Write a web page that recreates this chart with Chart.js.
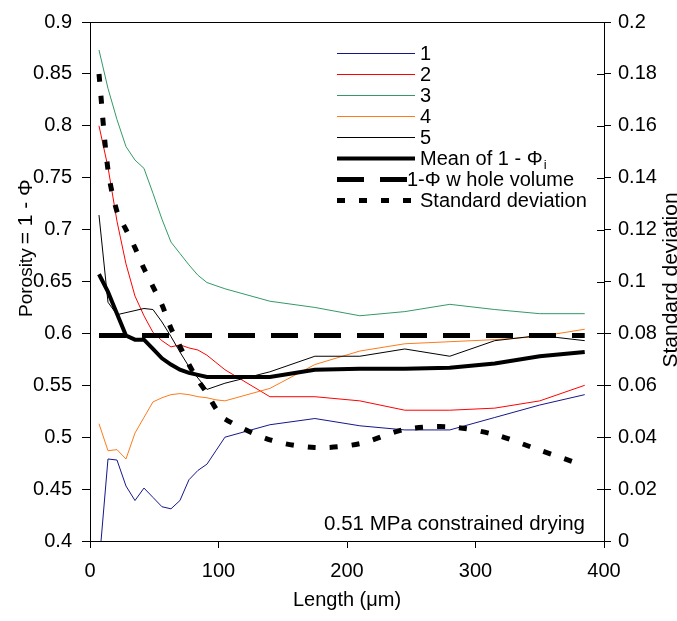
<!DOCTYPE html>
<html>
<head>
<meta charset="utf-8">
<script src="https://cdn.jsdelivr.net/npm/chart.js@4"></script>
<style>
  html, body { margin: 0; padding: 0; background: #fff; }
  #wrap { width: 677px; height: 621px; }
</style>
</head>
<body>
<div id="wrap"><canvas id="grafico" width="677" height="621"></canvas></div>
<script>
// sample positions along the specimen (µm)
const lengths = [7, 14, 21, 28, 35, 42, 49, 56, 63, 70, 77, 84, 91, 98, 105, 140, 175, 210, 245, 280, 315, 350, 385];

// porosity 1 - phi for the five slices
const serie1 = [0.377, 0.479, 0.478, 0.453, 0.439, 0.451, 0.442, 0.433, 0.431, 0.439, 0.459, 0.468, 0.474, 0.487, 0.500, 0.512, 0.518, 0.511, 0.507, 0.507, 0.519, 0.531, 0.541];
const serie2 = [0.800, 0.760, 0.708, 0.667, 0.636, 0.617, 0.601, 0.593, 0.587, 0.589, 0.586, 0.584, 0.579, 0.572, 0.565, 0.539, 0.539, 0.535, 0.526, 0.526, 0.528, 0.535, 0.550];
const serie3 = [0.873, 0.836, 0.806, 0.780, 0.767, 0.759, 0.735, 0.710, 0.688, 0.677, 0.666, 0.656, 0.649, 0.646, 0.643, 0.631, 0.625, 0.617, 0.621, 0.628, 0.623, 0.619, 0.619];
const serie4 = [0.513, 0.487, 0.488, 0.479, 0.504, 0.519, 0.534, 0.538, 0.541, 0.542, 0.541, 0.539, 0.538, 0.536, 0.535, 0.547, 0.570, 0.583, 0.590, 0.592, 0.594, 0.597, 0.604];
const serie5 = [0.714, 0.630, 0.618, 0.620, 0.622, 0.624, 0.623, 0.611, 0.597, 0.582, 0.568, 0.557, 0.546, 0.549, 0.552, 0.563, 0.578, 0.578, 0.585, 0.578, 0.593, 0.598, 0.593];
const media = [0.657, 0.640, 0.619, 0.598, 0.594, 0.594, 0.585, 0.576, 0.570, 0.565, 0.562, 0.560, 0.558, 0.558, 0.558, 0.558, 0.565, 0.566, 0.566, 0.567, 0.571, 0.578, 0.582];
const volumenTotal = 0.598;
const desviacion = [0.180, 0.143, 0.127, 0.120, 0.113, 0.105, 0.098, 0.091, 0.082, 0.075, 0.068, 0.062, 0.057, 0.051, 0.047, 0.039, 0.036, 0.0375, 0.043, 0.044, 0.041, 0.035, 0.029];

const etiquetas = ["1", "2", "3", "4", "5", "Mean of 1 - \u03A6", "1-\u03A6 w hole volume", "Standard deviation"];
const yTicks = [0.4, 0.45, 0.5, 0.55, 0.6, 0.65, 0.7, 0.75, 0.8, 0.85, 0.9];
const y2Ticks = [0, 0.02, 0.04, 0.06, 0.08, 0.1, 0.12, 0.14, 0.16, 0.18, 0.2];
const xTicks = [0, 100, 200, 300, 400];

const FAMILY = "'Liberation Sans', Arial, Helvetica, sans-serif";
const toPoints = (vals) => lengths.map((x, i) => ({ x: x, y: vals[i] }));
const fmt = (v) => String(Math.round(v * 100) / 100);

const datasets = [
  { label: etiquetas[7], data: toPoints(desviacion), yAxisID: "y2", borderColor: "#000", borderWidth: 5, borderDash: [8, 14], tension: 0.3 },
  { label: etiquetas[6], data: toPoints(lengths.map(() => volumenTotal)), borderColor: "#000", borderWidth: 5, borderDash: [27, 16] },
  { label: etiquetas[5], data: toPoints(media), borderColor: "#000", borderWidth: 4 },
  { label: etiquetas[4], data: toPoints(serie5), borderColor: "#000", borderWidth: 1 },
  { label: etiquetas[3], data: toPoints(serie4), borderColor: "#ff7a1a", borderWidth: 1 },
  { label: etiquetas[2], data: toPoints(serie3), borderColor: "#339966", borderWidth: 1 },
  { label: etiquetas[1], data: toPoints(serie2), borderColor: "#ff0000", borderWidth: 1 },
  { label: etiquetas[0], data: toPoints(serie1), borderColor: "#16168c", borderWidth: 1 }
];

// titles, legend, note and the box edges drawn on top
const overlay = {
  id: "overlay",
  afterDraw(chart) {
    const ctx = chart.ctx;
    const area = chart.chartArea;
    const y2 = chart.scales.y2;
    ctx.save();
    ctx.strokeStyle = "#000";
    ctx.lineWidth = 1;
    ctx.beginPath();
    ctx.moveTo(area.left, area.top + 0.5);
    ctx.lineTo(area.right, area.top + 0.5);
    y2Ticks.forEach((v) => {
      const py = Math.round(y2.getPixelForValue(v)) + 0.5;
      ctx.moveTo(area.right - 7, py);
      ctx.lineTo(area.right, py);
    });
    ctx.stroke();

    ctx.fillStyle = "#000";
    // left title
    ctx.save();
    ctx.translate(32, 317);
    ctx.rotate(-Math.PI / 2);
    ctx.textBaseline = "alphabetic";
    ctx.font = "19px " + FAMILY;
    ctx.fillText("Porosity", 0, 0);
    const w = ctx.measureText("Porosity").width;
    ctx.font = "21px " + FAMILY;
    ctx.fillText("= 1 - \u03A6", w + 4, 0);
    ctx.restore();

    // right title
    ctx.save();
    ctx.translate(677, 280);
    ctx.rotate(-Math.PI / 2);
    ctx.textAlign = "center";
    ctx.textBaseline = "alphabetic";
    ctx.font = "21px " + FAMILY;
    ctx.fillText("Standard deviation", 0, 0);
    ctx.restore();

    // x title
    ctx.textAlign = "center";
    ctx.textBaseline = "middle";
    ctx.font = "20px " + FAMILY;
    ctx.fillText("Length (\u03BCm)", (area.left + area.right) / 2, 600);

    // note
    ctx.textAlign = "right";
    ctx.textBaseline = "alphabetic";
    ctx.font = "20.5px " + FAMILY;
    ctx.fillText("0.51 MPa constrained drying", 585, 530);

    // legend
    const orden = [7, 6, 5, 4, 3, 2, 1, 0];
    orden.forEach((di, row) => {
      const ds = chart.data.datasets[di];
      const ly = 53 + row * 21;
      ctx.save();
      ctx.strokeStyle = ds.borderColor;
      ctx.lineWidth = ds.borderWidth;
      ctx.setLineDash(ds.borderDash || []);
      ctx.beginPath();
      ctx.moveTo(337, ly + 0.5);
      ctx.lineTo(415, ly + 0.5);
      ctx.stroke();
      ctx.restore();
      ctx.textAlign = "left";
      ctx.textBaseline = "alphabetic";
      ctx.font = "20px " + FAMILY;
      const tx = ds.label === etiquetas[6] ? 407 : 420;
      ctx.fillText(ds.label, tx, ly + 7);
      if (ds.label === etiquetas[5]) {
        const lw = ctx.measureText(ds.label).width;
        ctx.font = "13px " + FAMILY;
        ctx.fillText("i", tx + lw + 1, ly + 11);
      }
    });
    ctx.restore();
  }
};

const tickFont = { family: FAMILY, size: 20 };

new Chart(document.getElementById("grafico"), {
  type: "line",
  data: { datasets: datasets },
  options: {
    responsive: false,
    animation: false,
    devicePixelRatio: 1,
    layout: { padding: { top: 17, left: 0, right: 0, bottom: 0 } },
    elements: { point: { radius: 0 }, line: { tension: 0, borderCapStyle: "butt" } },
    plugins: { legend: { display: false }, tooltip: { enabled: false } },
    scales: {
      x: {
        type: "linear", min: 0, max: 400,
        afterBuildTicks: (s) => { s.ticks = xTicks.map((v) => ({ value: v })); },
        afterFit: (s) => { s.height = 80; },
        ticks: { font: tickFont, color: "#000", padding: 11, maxRotation: 0 },
        grid: { drawOnChartArea: false, tickLength: 7, tickColor: "#000" },
        border: { color: "#000" }
      },
      y: {
        position: "left", min: 0.4, max: 0.9,
        afterBuildTicks: (s) => { s.ticks = yTicks.map((v) => ({ value: v })); },
        afterFit: (s) => { s.width = 90; },
        ticks: { font: tickFont, color: "#000", padding: 10, callback: (v) => fmt(v) },
        grid: { drawOnChartArea: false, tickLength: 8, tickColor: "#000" },
        border: { color: "#000" }
      },
      y2: {
        position: "right", min: 0, max: 0.2,
        afterBuildTicks: (s) => { s.ticks = y2Ticks.map((v) => ({ value: v })); },
        afterFit: (s) => { s.width = 73; },
        ticks: { font: tickFont, color: "#000", padding: 7, callback: (v) => fmt(v) },
        grid: { drawOnChartArea: false, tickLength: 7, tickColor: "#000" },
        border: { color: "#000" }
      }
    }
  },
  plugins: [overlay]
});
</script>
</body>
</html>
